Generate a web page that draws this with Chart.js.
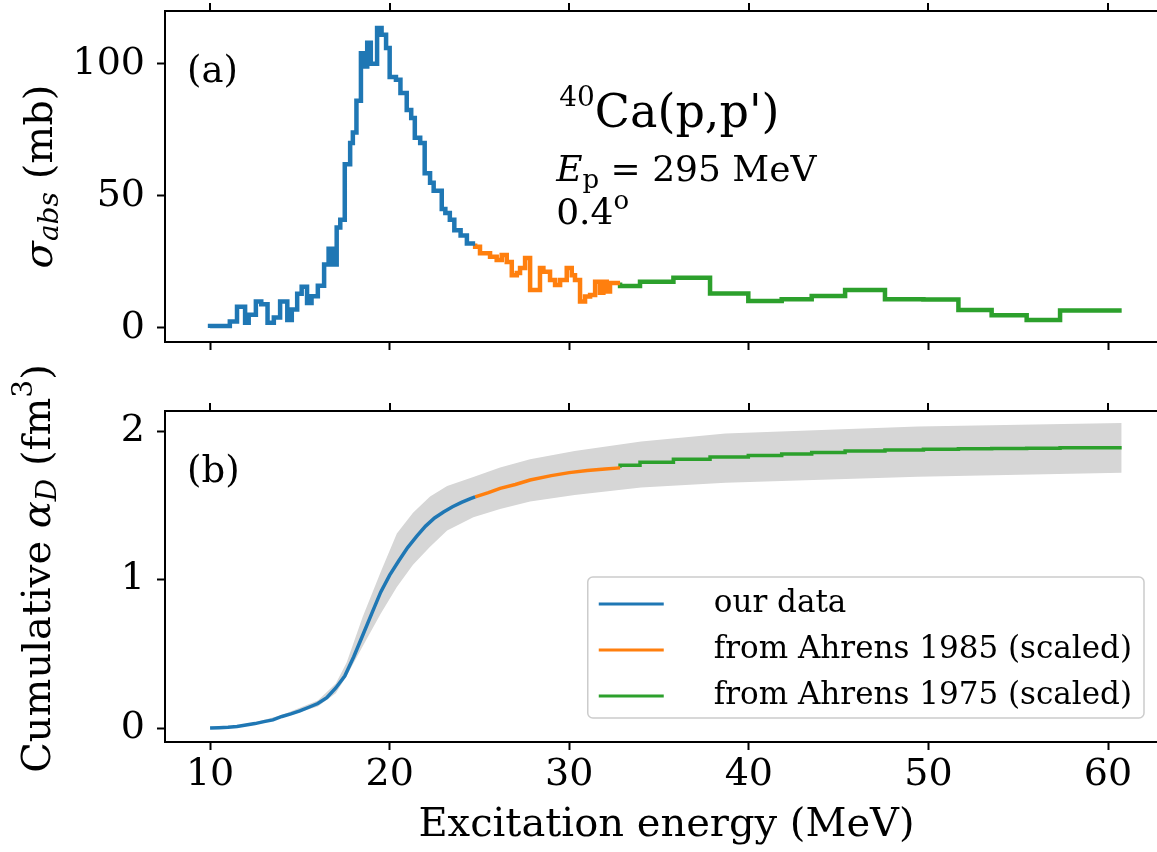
<!DOCTYPE html>
<html>
  <head>
    <title>Chart</title>
    <script src="https://cdn.jsdelivr.net/npm/chart.js"></script>
    <style>
      html, body { margin: 0; padding: 0; background: #fff; overflow: hidden; }
      canvas { position: absolute; left: 0; }
    </style>
  </head>
  <body>
    <canvas id="top" width="1168" height="350" style="top:0"></canvas>
    <canvas id="bottom" width="1168" height="502" style="top:350px"></canvas>
    <script>
// panel (a): absorption cross section, step histograms (bin left edges, last edge repeats value)
const blueE = [10.0, 11.1, 11.5, 11.95, 12.15, 12.55, 12.85, 13.2, 13.55, 13.9, 14.3, 14.55, 14.85, 15.1, 15.4, 15.65, 16.0, 16.35, 16.6, 16.85, 17.05, 17.25, 17.5, 17.8, 17.95, 18.15, 18.4, 18.6, 18.75, 18.95, 19.3, 19.55, 19.8, 20.0, 20.35, 20.6, 20.75, 20.95, 21.2, 21.4, 21.7, 21.95, 22.25, 22.45, 22.9, 23.1, 23.35, 23.6, 23.95, 24.3, 24.65, 24.76];
const blueSigma = [0, 0.8, 2.5, 8, 2, 5, 10, 9, 2, 4, 10, 3, 7, 13, 15.6, 9.5, 12, 16, 24, 30, 24, 38, 41, 62, 70, 74, 86, 104, 99, 108, 100, 113.6, 111, 106, 95, 94, 89, 89, 82.5, 79.5, 72, 70, 58.6, 55, 52, 45, 43.5, 41, 37, 35, 32, 32];
const orangeE = [24.76, 25.03, 25.59, 25.96, 26.24, 26.52, 26.8, 27.08, 27.26, 27.54, 27.82, 28.37, 28.56, 28.93, 29.21, 29.49, 29.86, 30.14, 30.32, 30.6, 30.88, 31.16, 31.44, 31.71, 31.9, 32.09, 32.27, 32.46, 32.64, 32.83];
const orangeSigma = [32, 30.8, 28.3, 27, 25.7, 27.6, 25, 20, 20.8, 22.7, 26.5, 14.4, 22.7, 21.3, 18.2, 16.3, 18.2, 22.7, 20, 18.2, 10, 11.9, 12.5, 17.5, 13.3, 17.5, 13.8, 17, 17, 17];
const greenE = [32.83, 33.94, 35.8, 37.84, 39.97, 41.83, 43.5, 45.36, 47.58, 49.72, 51.67, 53.52, 55.47, 57.33, 59.55, 60.76];
const greenSigma = [17.2, 15.9, 17.5, 19, 13.1, 10.2, 10.9, 12.1, 14.4, 10.9, 10.8, 6.8, 4.8, 3.0, 6.6, 6.6];

// panel (b): cumulative polarizability
const blueCumE = [10.0, 10.5, 11.0, 11.5, 12.0, 12.5, 13.0, 13.5, 14.0, 14.5, 15.0, 15.5, 16.0, 16.5, 17.0, 17.5, 18.0, 18.5, 19.0, 19.5, 20.0, 20.5, 21.0, 21.5, 22.0, 22.5, 23.0, 23.5, 24.0, 24.5, 24.76];
const blueCum = [0, 0.002, 0.005, 0.01, 0.02, 0.03, 0.043, 0.055, 0.078, 0.095, 0.115, 0.14, 0.165, 0.205, 0.27, 0.35, 0.48, 0.625, 0.77, 0.915, 1.03, 1.125, 1.215, 1.29, 1.36, 1.415, 1.455, 1.49, 1.52, 1.545, 1.557];
const orangeCumE = [24.76, 25.5, 26.15, 27.0, 27.82, 29.0, 30.0, 31.0, 32.0, 32.83];
const orangeCum = [1.557, 1.585, 1.614, 1.64, 1.67, 1.70, 1.72, 1.735, 1.745, 1.752];
const greenCum = [1.752, 1.77, 1.79, 1.81, 1.825, 1.835, 1.845, 1.855, 1.865, 1.872, 1.877, 1.88, 1.882, 1.884, 1.888, 1.888];
const bandE = [10.0, 12.0, 14.0, 16.0, 17.0, 17.6, 18.5, 19.5, 20.4, 21.3, 22.25, 23.2, 24.66, 26.15, 27.82, 30.3, 34.0, 38.7, 49.4, 60.76];
const bandLow = [0, 0.018, 0.07, 0.145, 0.235, 0.35, 0.55, 0.77, 0.95, 1.10, 1.22, 1.33, 1.42, 1.475, 1.525, 1.569, 1.62, 1.652, 1.692, 1.719];
const bandHigh = [0, 0.022, 0.088, 0.185, 0.30, 0.44, 0.75, 1.05, 1.31, 1.45, 1.56, 1.63, 1.69, 1.755, 1.81, 1.865, 1.93, 1.984, 2.03, 2.054];

const xTicks = [10, 20, 30, 40, 50, 60];
const yTicksTop = [0, 50, 100];
const yTicksBottom = [0, 1, 2];
const legendLabels = ['our data', 'from Ahrens 1985 (scaled)', 'from Ahrens 1975 (scaled)'];

const BLUE = '#1f77b4', ORANGE = '#ff7f0e', GREEN = '#2ca02c';
const SERIF = '"DejaVu Serif", serif';

const pts = (xs, ys) => xs.map((x, i) => ({ x: x, y: ys[i] }));

// draw a sequence of text runs along one baseline
function drawRuns(ctx, runs, x, y, align) {
  let w = 0;
  runs.forEach(r => { ctx.font = r.font; w += ctx.measureText(r.t).width; });
  let cx = align === 'center' ? x - w / 2 : x;
  ctx.textAlign = 'left';
  runs.forEach(r => {
    ctx.font = r.font;
    ctx.fillText(r.t, cx, y + (r.dy || 0));
    cx += ctx.measureText(r.t).width;
  });
}

const framePlugin = {
  id: 'frame',
  afterDraw(chart) {
    const { ctx, chartArea: a } = chart;
    const xs = chart.scales.x;
    ctx.save();
    ctx.strokeStyle = '#000';
    ctx.lineWidth = 2;
    ctx.strokeRect(a.left, a.top, a.right - a.left, a.bottom - a.top);
    ctx.beginPath();
    xTicks.forEach(v => {
      const px = Math.round(xs.getPixelForValue(v));
      ctx.moveTo(px, a.top);
      ctx.lineTo(px, a.top - 8);
    });
    ctx.stroke();
    ctx.restore();
  }
};

const textPlugin = {
  id: 'texts',
  afterDraw(chart, args, opts) {
    const { ctx, chartArea: a } = chart;
    ctx.save();
    ctx.fillStyle = '#000';
    ctx.textBaseline = 'alphabetic';
    opts.items.forEach(it => drawRuns(ctx, it.runs, a.left + it.fx * (a.right - a.left), a.top + it.fy * (a.bottom - a.top), 'left'));
    // rotated y title
    ctx.translate(opts.titleX, (a.top + a.bottom) / 2 + opts.titleShift);
    ctx.rotate(-Math.PI / 2);
    ctx.textBaseline = 'middle';
    drawRuns(ctx, opts.title, 0, 0, 'center');
    ctx.restore();
  }
};

const legendPlugin = {
  id: 'boxlegend',
  afterDraw(chart) {
    const { ctx, chartArea: a } = chart;
    const font = '31px ' + SERIF;
    ctx.save();
    ctx.font = font;
    const tw = Math.max(...legendLabels.map(l => ctx.measureText(l).width));
    const w = 126 + tw + 12, h = 141;
    const x0 = a.right - 24 - w, y0 = a.bottom - 24 - h;
    ctx.beginPath();
    ctx.roundRect(x0, y0, w, h, 5);
    ctx.fillStyle = 'rgba(255,255,255,0.85)';
    ctx.fill();
    ctx.strokeStyle = '#cccccc';
    ctx.lineWidth = 1.5;
    ctx.stroke();
    const colors = [BLUE, ORANGE, GREEN];
    legendLabels.forEach((l, i) => {
      const cy = y0 + 27 + i * 46;
      ctx.strokeStyle = colors[i];
      ctx.lineWidth = 3;
      ctx.beginPath();
      ctx.moveTo(x0 + 11, cy);
      ctx.lineTo(x0 + 76, cy);
      ctx.stroke();
      ctx.fillStyle = '#000';
      ctx.textBaseline = 'middle';
      ctx.fillText(l, x0 + 126, cy);
    });
    ctx.restore();
  }
};

function xScale(showLabels, height) {
  return {
    type: 'linear', min: 7.49, max: 63.34,
    afterBuildTicks: s => { s.ticks = xTicks.map(v => ({ value: v })); },
    afterFit: s => { s.height = height; s.paddingLeft = 0; s.paddingRight = 0; },
    grid: { drawOnChartArea: false, color: '#000', tickLength: 8, tickWidth: 2 },
    border: { display: false },
    ticks: { display: showLabels, color: '#000', font: { family: SERIF, size: 38 }, padding: 2, maxRotation: 0 },
    title: { display: showLabels, text: 'Excitation energy (MeV)', color: '#000', font: { family: SERIF, size: 40 }, padding: { top: 0, bottom: 2 } }
  };
}

function yScale(min, max, ticks) {
  return {
    type: 'linear', min: min, max: max,
    afterBuildTicks: s => { s.ticks = ticks.map(v => ({ value: v })); },
    afterFit: s => { s.width = 165; s.paddingTop = 0; s.paddingBottom = 0; },
    grid: { drawOnChartArea: false, color: '#000', tickLength: 8, tickWidth: 2 },
    border: { display: false },
    ticks: { color: '#000', font: { family: SERIF, size: 38 }, padding: 12 }
  };
}

const line = (data, color, width, stepped) => ({
  data: data, borderColor: color, backgroundColor: color, borderWidth: width,
  pointRadius: 0, stepped: stepped, fill: false, tension: 0, order: 0
});

new Chart(document.getElementById('top'), {
  type: 'line',
  data: {
    datasets: [
      line(pts(blueE, blueSigma), BLUE, 4.5, 'after'),
      line(pts(orangeE, orangeSigma), ORANGE, 4.5, 'after'),
      line(pts(greenE, greenSigma), GREEN, 4.5, 'after')
    ]
  },
  options: {
    responsive: false, animation: false,
    layout: { padding: { top: 11, right: 0, left: 0, bottom: 0 } },
    plugins: {
      legend: { display: false }, tooltip: { enabled: false },
      texts: {
        titleX: 42, titleShift: 0,
        title: [
          { t: 'σ', font: 'italic 40px ' + SERIF },
          { t: 'abs', font: 'italic 28px ' + SERIF, dy: 9 },
          { t: ' (mb)', font: '40px ' + SERIF }
        ],
        items: [
          { fx: 0.022, fy: 0.213, runs: [{ t: '(a)', font: '37px ' + SERIF }] },
          { fx: 0.393, fy: 0.35, runs: [{ t: '40', font: '28px ' + SERIF, dy: -21 }, { t: 'Ca(p,p\')', font: '46px ' + SERIF }] },
          { fx: 0.39, fy: 0.515, runs: [{ t: 'E', font: 'italic 36px ' + SERIF }, { t: 'p', font: '26px ' + SERIF, dy: 7 }, { t: ' = 295 MeV', font: '36px ' + SERIF }] },
          { fx: 0.39, fy: 0.645, runs: [{ t: '0.4', font: '36px ' + SERIF }, { t: 'o', font: '26px ' + SERIF, dy: -15 }] }
        ]
      }
    },
    scales: { x: xScale(false, 8), y: yScale(-5.3, 120, yTicksTop) }
  },
  plugins: [framePlugin, textPlugin]
});

new Chart(document.getElementById('bottom'), {
  type: 'line',
  data: {
    datasets: [
      { data: pts(bandE, bandLow), borderWidth: 0, pointRadius: 0, fill: false, borderColor: 'rgba(0,0,0,0)', order: 5 },
      { data: pts(bandE, bandHigh), borderWidth: 0, pointRadius: 0, fill: '-1', backgroundColor: '#d6d6d6', borderColor: 'rgba(0,0,0,0)', order: 5 },
      Object.assign(line(pts(blueCumE, blueCum), BLUE, 3.5, false), { label: legendLabels[0] }),
      Object.assign(line(pts(orangeCumE, orangeCum), ORANGE, 3.5, false), { label: legendLabels[1] }),
      Object.assign(line(pts(greenE, greenCum), GREEN, 3.5, 'after'), { label: legendLabels[2] })
    ]
  },
  options: {
    responsive: false, animation: false,
    layout: { padding: { top: 61, right: 0, left: 0, bottom: 0 } },
    plugins: {
      legend: { display: false }, tooltip: { enabled: false },
      filler: { propagate: false },
      texts: {
        titleX: 40, titleShift: -8,
        title: [
          { t: 'Cumulative ', font: '40px ' + SERIF },
          { t: 'α', font: 'italic 40px ' + SERIF },
          { t: 'D', font: 'italic 28px ' + SERIF, dy: 9 },
          { t: ' (fm', font: '40px ' + SERIF },
          { t: '3', font: '28px ' + SERIF, dy: -15 },
          { t: ')', font: '40px ' + SERIF }
        ],
        items: [
          { fx: 0.022, fy: 0.213, runs: [{ t: '(b)', font: '37px ' + SERIF }] }
        ]
      }
    },
    scales: { x: xScale(true, 110), y: yScale(-0.094, 2.135, yTicksBottom) }
  },
  plugins: [framePlugin, textPlugin, legendPlugin]
});
    </script>
  </body>
</html>
